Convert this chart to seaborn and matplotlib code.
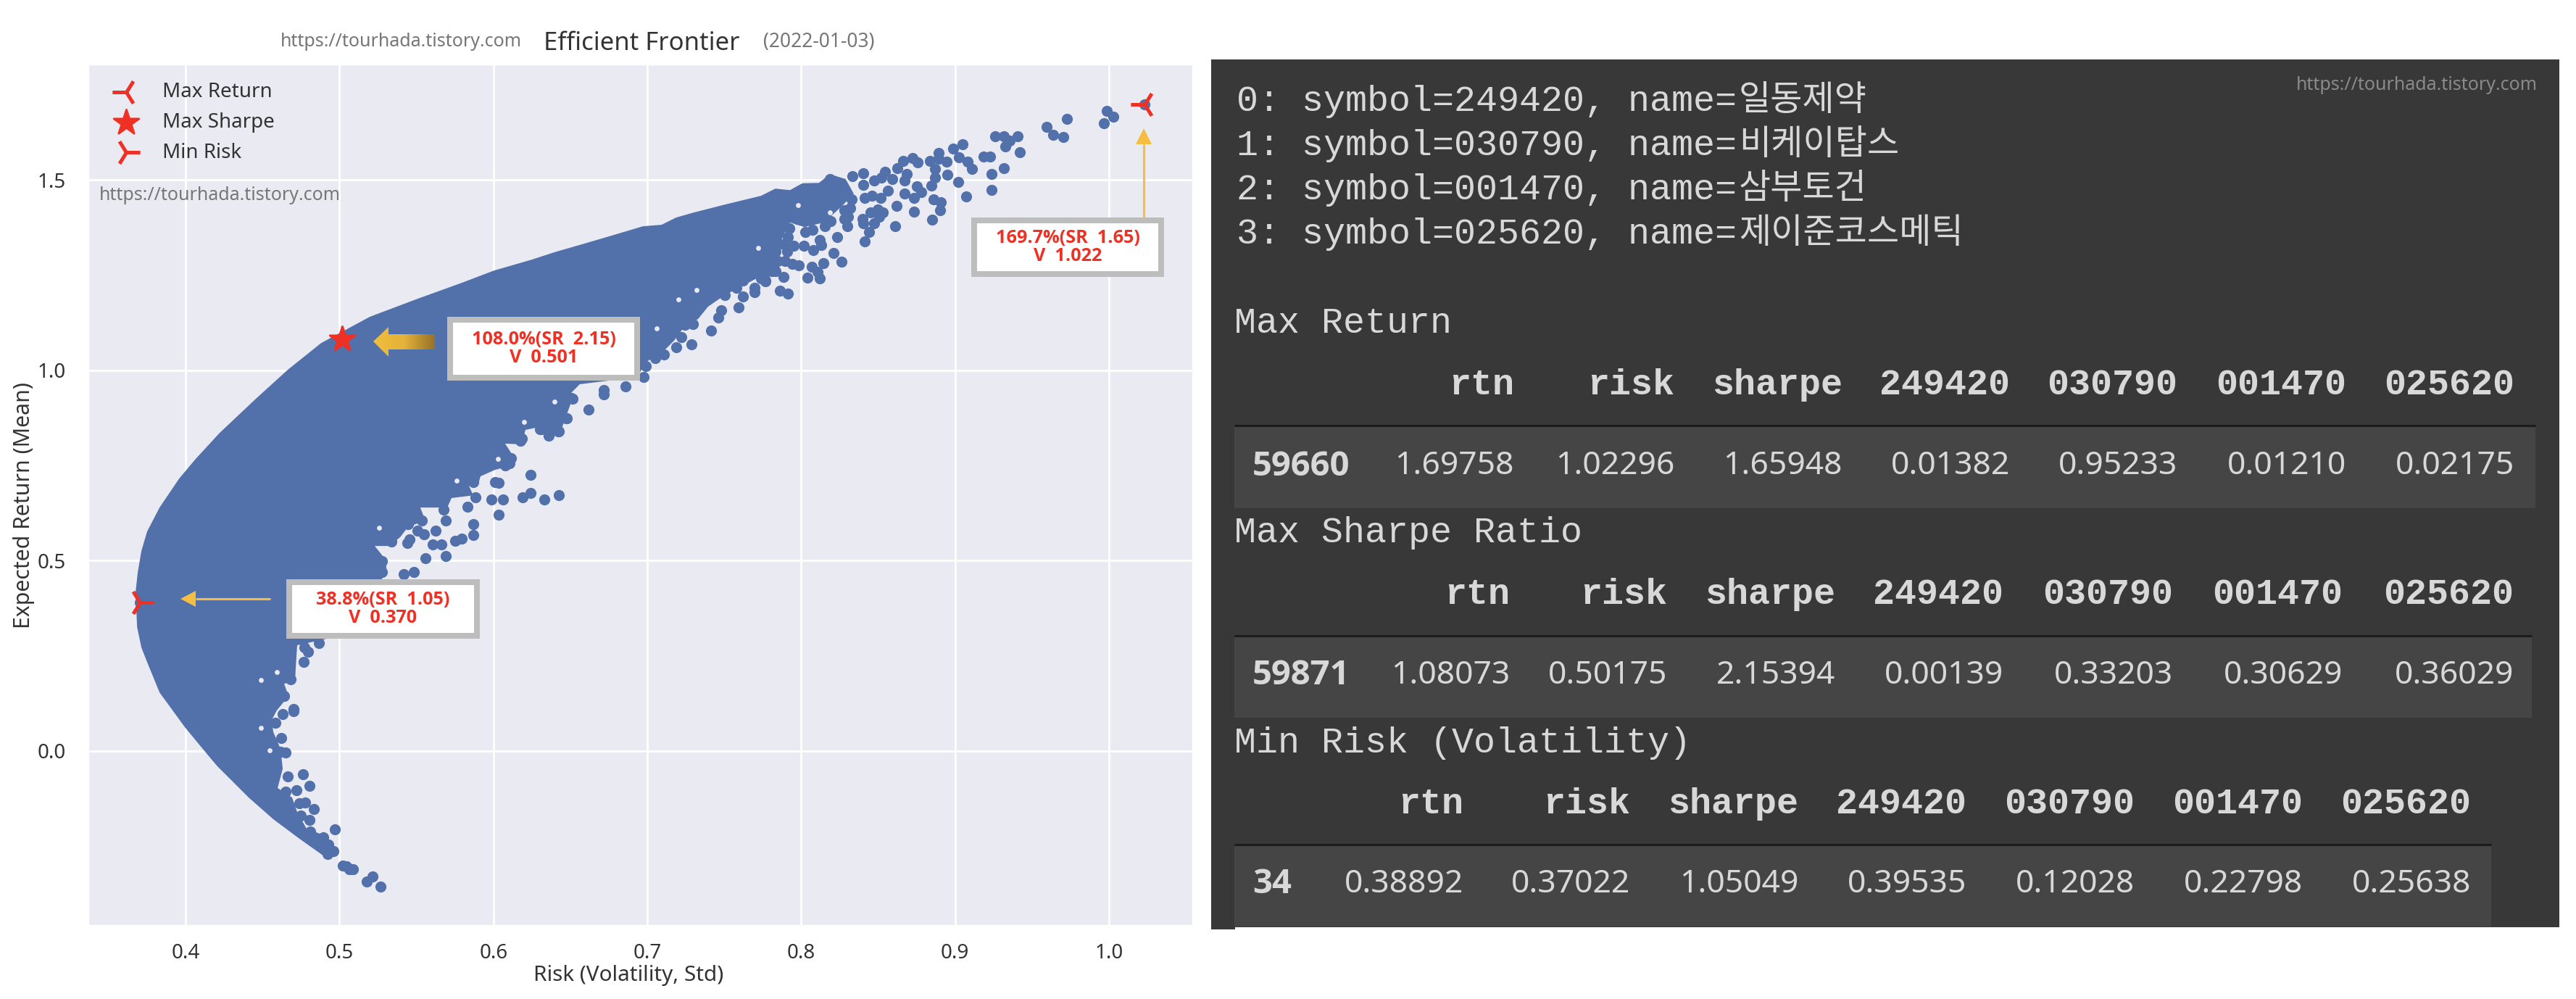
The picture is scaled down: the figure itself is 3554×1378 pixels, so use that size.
#!/usr/bin/python3
import numpy as np
import pandas as pd
import matplotlib
matplotlib.use("Agg")
import matplotlib.pyplot as plt
from matplotlib.colors import LinearSegmentedColormap
from matplotlib.patches import Polygon, Rectangle
import seaborn as sns

# outline of the solid part of the cloud
body_risk = [0.3675, 0.3689, 0.3713, 0.3750, 0.3831, 0.3958, 0.4066, 0.4221, 0.4457, 0.4664, 0.4880, 0.5045,
             0.5196, 0.5497, 0.5798, 0.6006, 0.6246, 0.6406, 0.6561, 0.6764, 0.6971, 0.7093, 0.7187, 0.7300,
             0.7503, 0.7738, 0.7832, 0.7927, 0.8007, 0.8115, 0.8186, 0.8289, 0.8341, 0.8270, 0.8148, 0.8021,
             0.7927, 0.7880, 0.7847, 0.7771, 0.7564, 0.7503, 0.7395, 0.7329, 0.7253, 0.7173, 0.7093, 0.6985,
             0.6938, 0.6561, 0.6500, 0.6514, 0.6467, 0.6434, 0.6359, 0.6279, 0.6208, 0.6185, 0.6076, 0.6137,
             0.6105, 0.6010, 0.5916, 0.5902, 0.5841, 0.5869, 0.5728, 0.5700, 0.5525, 0.5558, 0.5445, 0.5394,
             0.5323, 0.5229, 0.5304, 0.5304, 0.5276, 0.4913, 0.4725, 0.4716, 0.4711, 0.4640, 0.4669, 0.4631,
             0.4593, 0.4560, 0.4570, 0.4617, 0.4631, 0.4598, 0.4692, 0.4725, 0.4786, 0.4899,
             0.4984, 0.4913, 0.4739, 0.4570, 0.4410, 0.4207, 0.4146, 0.3995, 0.3831, 0.3755, 0.3713, 0.3685]
body_ret = [0.416, 0.468, 0.525, 0.576, 0.639, 0.715, 0.767, 0.835, 0.925, 1.001, 1.071, 1.107,
            1.140, 1.186, 1.230, 1.262, 1.290, 1.311, 1.329, 1.353, 1.378, 1.382, 1.401, 1.414,
            1.435, 1.458, 1.477, 1.473, 1.491, 1.492, 1.515, 1.502, 1.464, 1.433, 1.388, 1.376,
            1.388, 1.350, 1.311, 1.254, 1.210, 1.197, 1.167, 1.134, 1.121, 1.077, 1.045, 1.020,
            0.982, 0.963, 0.938, 0.925, 0.873, 0.835, 0.820, 0.849, 0.843, 0.805, 0.807, 0.769,
            0.748, 0.738, 0.721, 0.700, 0.696, 0.671, 0.664, 0.639, 0.639, 0.605, 0.588, 0.561,
            0.538, 0.538, 0.500, 0.464, 0.452, 0.294, 0.277, 0.220, 0.182, 0.176, 0.144, 0.125,
            0.106, 0.081, 0.049, 0.005, -0.047, -0.098, -0.123, -0.161, -0.205, -0.222,
            -0.262, -0.281, -0.231, -0.180, -0.123, -0.041, -0.012, 0.062, 0.153, 0.228, 0.271, 0.325]

# single portfolios outside the solid part
point_risk = [0.9985, 1.0026, 0.9968, 0.9728, 0.9596, 0.9637, 0.9701, 0.9262, 0.9315, 0.9406, 0.9354, 0.9328,
              0.9419, 0.9047, 0.8986, 0.9025, 0.9080, 0.9111, 0.9185, 0.9229, 0.9315, 0.9238, 0.9238, 0.9070,
              0.9020, 0.8950, 0.8943, 0.8891, 0.8891, 0.8837, 0.8758, 0.8724, 0.8664, 0.8625, 0.8687, 0.8672,
              0.8868, 0.8868, 0.8844, 0.8750, 0.8782, 0.8735, 0.8672, 0.8562, 0.8518, 0.8622, 0.8735, 0.8851,
              0.8609, 0.8860, 0.8907, 0.8904, 0.8413, 0.8440, 0.8476, 0.8507, 0.8530, 0.8397, 0.8405, 0.8499,
              0.8452, 0.8460, 0.8413, 0.8546, 0.8593, 0.8523, 0.8476, 0.8405, 0.8405, 0.8334, 0.8185, 0.8235,
              0.8298, 0.8209, 0.8261, 0.8146, 0.8122, 0.8130, 0.8079, 0.8016, 0.7950, 0.7914, 0.7923, 0.8068,
              0.8107, 0.8119, 0.8041, 0.7986, 0.7887, 0.7860, 0.7915, 0.7769, 0.8303, 0.8279, 0.8327, 0.7895,
              0.7832, 0.7942, 0.7911, 0.7801, 0.7738,
              0.8319, 0.8279, 0.8193, 0.8154, 0.8075, 0.8028, 0.7973, 0.7887, 0.7832, 0.7785, 0.7848, 0.7809,
              0.7762,
              0.7699, 0.7699, 0.7620, 0.7592, 0.7581, 0.7620, 0.7502, 0.7479, 0.7463, 0.7413, 0.7298, 0.7244,
              0.7286, 0.7220, 0.7189, 0.7110, 0.7050, 0.7000, 0.6989, 0.6977, 0.6859, 0.6718, 0.6718, 0.6616,
              0.6506, 0.6471, 0.6427, 0.6357, 0.6302, 0.6176, 0.6114, 0.6106, 0.6242, 0.6242, 0.6192, 0.6330,
              0.6423, 0.7463, 0.7769, 0.7816,
              0.6063, 0.5985, 0.5883, 0.5831, 0.6035, 0.5870, 0.5870, 0.5792, 0.5753, 0.5690, 0.5624, 0.5509,
              0.5548, 0.5663, 0.5608, 0.5454, 0.5442, 0.5690, 0.5560, 0.5483, 0.5418, 0.5274, 0.5274, 0.4866,
              0.4795, 0.4772, 0.4769, 0.4701, 0.4685, 0.4638,
              0.4701, 0.4631, 0.4584, 0.4623, 0.4651, 0.4615, 0.4764, 0.4662, 0.4803, 0.4722, 0.4650, 0.4775,
              0.4741, 0.4832, 0.4803, 0.4748, 0.4968, 0.4811, 0.4893, 0.4929, 0.4960, 0.4921, 0.5023, 0.5047,
              0.5062, 0.5089, 0.5215, 0.5175, 0.5266,
              0.6012, 0.6036, 0.6099, 0.6075, 0.6185, 0.6358, 0.6420, 0.6310, 0.6475, 0.6514, 0.5871, 0.5793,
              0.5675, 0.5534, 0.5447, 0.5337, 1.02296, 0.37022]
point_ret = [1.682, 1.665, 1.649, 1.661, 1.639, 1.619, 1.613, 1.614, 1.615, 1.614, 1.604, 1.587,
             1.572, 1.593, 1.582, 1.560, 1.547, 1.529, 1.561, 1.561, 1.530, 1.515, 1.473, 1.457,
             1.494, 1.514, 1.547, 1.571, 1.556, 1.550, 1.546, 1.558, 1.550, 1.531, 1.515, 1.499,
             1.528, 1.506, 1.485, 1.483, 1.468, 1.452, 1.464, 1.471, 1.453, 1.431, 1.416, 1.395,
             1.379, 1.449, 1.442, 1.420, 1.338, 1.364, 1.385, 1.404, 1.414, 1.398, 1.385, 1.423,
             1.414, 1.458, 1.452, 1.522, 1.503, 1.506, 1.499, 1.518, 1.487, 1.509, 1.503, 1.349,
             1.379, 1.307, 1.285, 1.281, 1.343, 1.328, 1.316, 1.327, 1.327, 1.349, 1.372, 1.271,
             1.258, 1.242, 1.243, 1.275, 1.244, 1.209, 1.202, 1.234, 1.404, 1.420, 1.449, 1.287,
             1.261, 1.280, 1.312, 1.287, 1.242,
             1.426, 1.398, 1.391, 1.379, 1.369, 1.363, 1.398, 1.331, 1.312, 1.287, 1.287, 1.261,
             1.255,
             1.217, 1.204, 1.193, 1.165, 1.217, 1.236, 1.198, 1.157, 1.139, 1.104, 1.122, 1.120,
             1.068, 1.087, 1.061, 1.041, 1.031, 1.055, 1.011, 0.983, 0.958, 0.947, 0.936, 0.896,
             0.927, 0.874, 0.839, 0.828, 0.845, 0.814, 0.769, 0.755, 0.724, 0.677, 0.666, 0.661,
             0.672, 1.239, 1.236, 1.268,
             0.661, 0.661, 0.666, 0.641, 0.620, 0.595, 0.567, 0.558, 0.552, 0.604, 0.579, 0.579,
             0.568, 0.542, 0.542, 0.556, 0.546, 0.511, 0.506, 0.469, 0.464, 0.499, 0.469, 0.282,
             0.261, 0.271, 0.233, 0.109, 0.188, 0.144,
             0.104, 0.096, 0.074, 0.033, -0.005, -0.002, -0.061, -0.067, -0.093, -0.103, -0.108, -0.136,
             -0.139, -0.153, -0.182, -0.170, -0.207, -0.212, -0.228, -0.247, -0.263, -0.272, -0.301, -0.304,
             -0.312, -0.311, -0.331, -0.343, -0.358,
             0.706, 0.703, 0.763, 0.750, 0.820, 0.830, 0.839, 0.845, 0.874, 0.925, 0.706, 0.683,
             0.633, 0.604, 0.595, 0.550, 1.69758, 0.38892]

# small gaps showing through the solid part
gap_risk = [0.7981, 0.8185, 0.7903, 0.7322, 0.7204, 0.7063, 0.7722, 0.5258, 0.4489, 0.4591, 0.5761, 0.6028,
            0.6201, 0.6397, 0.4544, 0.4489]
gap_ret = [1.433, 1.414, 1.331, 1.211, 1.185, 1.109, 1.322, 0.585, 0.185, 0.207, 0.709, 0.766,
           0.864, 0.918, 0.001, 0.061]

# the three marked portfolios
best_labels = ["Max Return", "Max Sharpe", "Min Risk"]
best_risk = [1.02296, 0.50175, 0.37022]
best_ret = [1.69758, 1.08073, 0.38892]
box_text = ["169.7%(SR  1.65)\nV  1.022", "108.0%(SR  2.15)\nV  0.501", "38.8%(SR  1.05)\nV  0.370"]

# right hand panel
stock_lines = ["0: symbol=249420, name=", "1: symbol=030790, name=",
               "2: symbol=001470, name=", "3: symbol=025620, name="]
stock_names = ["일동제약", "비케이탑스", "삼부토건", "제이준코스메틱"]
table_titles = ["Max Return", "Max Sharpe Ratio", "Min Risk (Volatility)"]
table_cols = ["rtn", "risk", "sharpe", "249420", "030790", "001470", "025620"]
table_index = ["59660", "59871", "34"]
table_rows = [["1.69758", "1.02296", "1.65948", "0.01382", "0.95233", "0.01210", "0.02175"],
              ["1.08073", "0.50175", "2.15394", "0.00139", "0.33203", "0.30629", "0.36029"],
              ["0.38892", "0.37022", "1.05049", "0.39535", "0.12028", "0.22798", "0.25638"]]
url = "https://tourhada.tistory.com"

W, H = 3554, 1378
RED = "#EE3124"
BLUE = "#5270AA"
YELLOW = "#F5BE41"
BOLD = ["Open Sans", "Liberation Sans"]

sns.set_theme(style="darkgrid")
plt.rcParams["font.family"] = ["Noto Sans", "DejaVu Sans"]
plt.rcParams["font.size"] = 10

fig = plt.figure(figsize=(W / 200, H / 200), dpi=200)
ax = fig.add_axes([121 / W, 1 - 1277 / H, 1525 / W, 1189 / H])

ax.fill(body_risk, body_ret, color=BLUE, lw=0, zorder=2)
cloud = pd.DataFrame({"risk": point_risk, "ret": point_ret})
sns.scatterplot(x=gap_risk, y=gap_ret, color="#EAEAF2", s=6, linewidth=0, ax=ax, zorder=2.5)
sns.scatterplot(data=cloud, x="risk", y="ret", color=BLUE, s=30, linewidth=0, ax=ax, zorder=3)

for label, r, m, marker, size in zip(best_labels, best_risk, best_ret, ["3", "*", "4"], [190, 170, 190]):
    kws = {"edgecolor": RED} if marker == "*" else {"linewidth": 1.8}
    sns.scatterplot(x=[r], y=[m], marker=marker, color=RED, s=size, label=label, ax=ax, zorder=4, **kws)

ax.set_xlim(0.3364, 1.0546)
ax.set_ylim(-0.46, 1.805)
ax.set_xticks([0.4, 0.5, 0.6, 0.7, 0.8, 0.9, 1.0])
ax.set_yticks([0.0, 0.5, 1.0, 1.5])
ax.tick_params(labelsize=10, colors="#333333")
ax.tick_params(axis="x", pad=2.5)
ax.tick_params(axis="y", pad=5)
ax.set_xlabel("Risk (Volatility, Std)", fontsize=10.7, color="#333333", labelpad=0.8, x=0.4895)
ax.set_ylabel("Expected Return (Mean)", fontsize=10.9, color="#333333", labelpad=1, y=0.4874)
ax.legend(loc="upper left", frameon=False, fontsize=10, labelcolor="#333333")

# everything pasted on top of the chart, in picture pixels
over = fig.add_axes([0, 0, 1, 1], zorder=10)
over.patch.set_visible(False)
over.axis("off")

over.text(553, 58, url, fontsize=9, color="#777777", ha="center", va="center")
over.text(303, 270, url, fontsize=9, color="#777777", ha="center", va="center")
over.text(885, 60, "Efficient Frontier", fontsize=12.5, color="#333333", ha="center", va="center")
over.text(1130, 58, "(2022-01-03)", fontsize=9.5, color="#777777", ha="center", va="center")

# annotation boxes
boxes = [(1340, 300, 1606, 382), (617, 437, 883, 525), (395, 799, 662, 881)]
for (x0, y0, x1, y1), txt in zip(boxes, box_text):
    over.add_patch(Rectangle((x0, y0), x1 - x0, y1 - y0, fc="#BDBDBD", ec="none"))
    over.add_patch(Rectangle((x0 + 8, y0 + 8), x1 - x0 - 16, y1 - y0 - 16, fc="white", ec="none"))
    over.text((x0 + x1) / 2, (y0 + y1) / 2, txt, family=BOLD, fontsize=9.1, color=RED, fontweight="bold",
              ha="center", va="center", linespacing=1.05)

# thin yellow arrows
over.plot([1578, 1578], [300, 199], color=YELLOW, lw=1.1, solid_capstyle="butt")
over.add_patch(Polygon([(1578, 177), (1567, 199), (1589, 199)], fc=YELLOW, ec="none"))
over.plot([373, 270], [826, 826], color=YELLOW, lw=1.1, solid_capstyle="butt")
over.add_patch(Polygon([(249, 826), (270, 815), (270, 837)], fc=YELLOW, ec="none"))

# gold block arrow with gradient
gold = LinearSegmentedColormap.from_list("gold", ["#F0BE3E", "#E5B23A", "#96722A"])
img = over.imshow(np.linspace(0, 1, 128).reshape(1, -1), extent=[515, 600, 492, 451], aspect="auto", cmap=gold)
img.set_clip_path(Polygon([(515, 471), (536, 451), (536, 461), (600, 461), (600, 482), (536, 482), (536, 492)],
                          transform=over.transData))

# dark notebook panel
PANEL = "#383838"
ROW = "#454545"
over.add_patch(Rectangle((1671, 82), 3531 - 1671, 1279 - 82, fc=PANEL, ec="none"))
over.add_patch(Rectangle((1671, 1279), 33, 3, fc=PANEL, ec="none"))
over.text(3334, 118, url, fontsize=9, color="#8A8A8A", ha="center", va="center")

MONO = ["Liberation Mono", "DejaVu Sans Mono"]
TXT = "#D8D8D8"
for y, line, name in zip([140, 201, 262, 323], stock_lines, stock_names):
    over.text(1706, y, line, family=MONO, fontsize=18, color=TXT, ha="left", va="center")
    over.text(2399, y - 2, name, family=["Noto Sans CJK KR", "DejaVu Sans"], fontsize=17.3, color=TXT,
              ha="left", va="center")

title_y = [446, 735, 1025]
head_y = [531, 820, 1109]
rule_y = [587, 877, 1165]
row_box = [(589, 701, 3498), (879, 990, 3493), (1167, 1278, 3437)]
val_y = [643, 932, 1220]
col_right = [[2089, 2310, 2542, 2773, 3004, 3237, 3469],
             [2083, 2300, 2532, 2764, 2998, 3232, 3468],
             [2019, 2249, 2481, 2713, 2945, 3177, 3409]]

for i, title in enumerate(table_titles):
    over.text(1703, title_y[i], title, family=MONO, fontsize=18, color=TXT, ha="left", va="center")
    top, bottom, right = row_box[i]
    over.add_patch(Rectangle((1703, top), right - 1703, bottom - top, fc=ROW, ec="none"))
    over.plot([1703, right], [rule_y[i], rule_y[i]], color="#1C1C1C", lw=1.1, solid_capstyle="butt")
    over.text(1728, val_y[i], table_index[i], family=BOLD, fontsize=17, fontweight="bold", color=TXT,
              ha="left", va="center")
    for x, col, val in zip(col_right[i], table_cols, table_rows[i]):
        over.text(x, head_y[i], col, family=MONO, fontsize=18, fontweight="bold", color=TXT, ha="right", va="center")
        over.text(x, val_y[i], val, fontsize=16, color=TXT, ha="right", va="center")

over.set_xlim(0, W)
over.set_ylim(H, 0)

fig.savefig("out.png", dpi=200)
